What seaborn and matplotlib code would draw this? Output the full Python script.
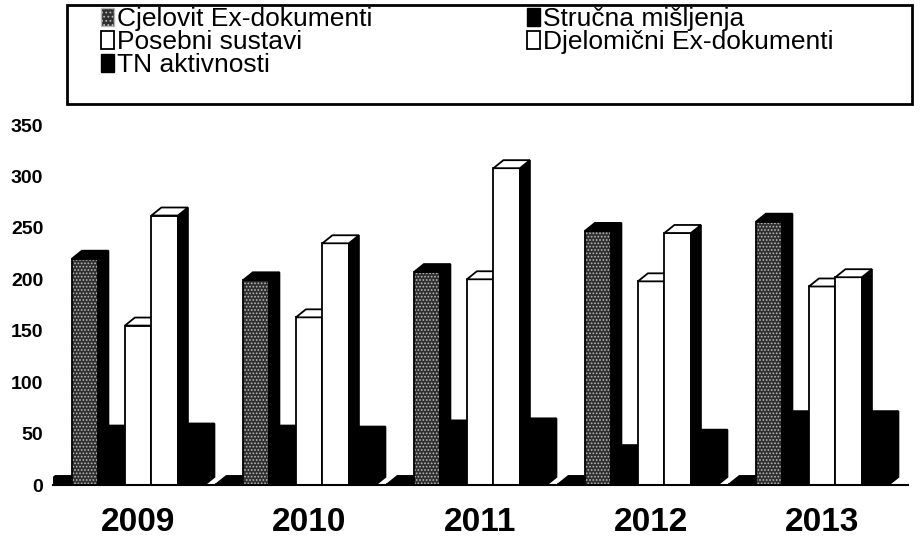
import numpy as np
import pandas as pd
import seaborn as sns
import matplotlib.pyplot as plt
from matplotlib.patches import Patch, Polygon, Rectangle

# values (front face of each 3D bar)
years = ["2009", "2010", "2011", "2012", "2013"]
series = ["", "Cjelovit Ex-dokumenti", "Stručna mišljenja", "Posebni sustavi",
          "Djelomični Ex-dokumenti", "TN aktivnosti"]
bez_naziva = [1, 1, 1, 1, 1]
cjelovit = [220, 199, 207, 247, 256]
strucna = [50, 50, 55, 31, 64]
posebni = [155, 163, 200, 198, 193]
djelomicni = [262, 235, 308, 245, 202]
tn = [52, 49, 57, 46, 64]

values = [bez_naziva, cjelovit, strucna, posebni, djelomicni, tn]
df = pd.DataFrame({
    "godina": years * len(series),
    "serija": [s for s in series for _ in years],
    "broj": [v for vals in values for v in vals],
})

GREY = "#2f2f2f"
face = {"": "black", series[1]: GREY, series[2]: "black", series[3]: "white",
        series[4]: "white", series[5]: "black"}
top_face = {"": "black", series[1]: "black", series[2]: "black", series[3]: "white",
            series[4]: "white", series[5]: "black"}

sns.set_style("white")
plt.rcParams["font.family"] = ["Liberation Sans", "DejaVu Sans"]
plt.rcParams["text.color"] = "black"
plt.rcParams["xtick.color"] = "black"
plt.rcParams["ytick.color"] = "black"
plt.rcParams["xtick.labelcolor"] = "black"
plt.rcParams["ytick.labelcolor"] = "black"
plt.rcParams["hatch.linewidth"] = 0.8

fig = plt.figure(figsize=(9.21, 5.51), dpi=100)
ax = fig.add_axes([53 / 921, 66 / 551, 855 / 921, 360 / 551])

sns.barplot(data=df, x="godina", y="broj", hue="serija", order=years,
            hue_order=series, palette=face, width=0.93, saturation=1,
            edgecolor="black", linewidth=1.3, legend=False, ax=ax)

ax.set_ylim(0, 350)
ax.set_xlim(-0.4205, 4.5795)

# fake 3D: top and side faces from each bar's own geometry
dx, dy = 0.0585, 7.8
bars = sorted(ax.patches, key=lambda p: p.get_x())
for m, p in enumerate(bars):
    name = series[m % len(series)]
    x, w, h = p.get_x(), p.get_width(), p.get_height()
    z = 2 + m * 0.01
    p.set_zorder(z)
    if name == series[1]:
        p.set_hatch(".....")
        p.set_edgecolor("#b8b8b8")
        p.set_linestyle(":")
        ax.add_patch(Rectangle((x, 0), w, h, fill=False, edgecolor="black",
                               lw=1.3, zorder=z + 0.001))
    side = Polygon([(x + w, 0), (x + w + dx, dy), (x + w + dx, h + dy), (x + w, h)],
                   closed=True, facecolor="black", edgecolor="black", lw=1.3,
                   zorder=z + 0.002)
    top = Polygon([(x, h), (x + dx, h + dy), (x + w + dx, h + dy), (x + w, h)],
                  closed=True, facecolor=top_face[name], edgecolor="black", lw=1.3,
                  zorder=z + 0.003)
    ax.add_patch(side)
    ax.add_patch(top)

# axes and ticks
ax.set_xlabel("")
ax.set_ylabel("")
ax.set_yticks(range(0, 351, 50))
ax.set_yticklabels([str(v) for v in range(0, 351, 50)], fontsize=14, fontweight="bold")
ax.tick_params(axis="y", length=0, pad=7)
bounds = [i - 0.4205 for i in range(len(years) + 1)]
centers = [i + 0.0795 for i in range(len(years))]
ax.set_xticks(bounds, labels=[""] * len(bounds))
ax.set_xticks(centers, labels=years, minor=True)
ax.tick_params(axis="x", which="major", length=6, width=1.5, direction="out", color="black")
ax.tick_params(axis="x", which="minor", length=0, pad=16, labelsize=24)
for lbl in ax.get_xticklabels(minor=True):
    lbl.set_fontweight("bold")
sns.despine(ax=ax, left=True)
ax.spines["bottom"].set_linewidth(1.5)
ax.spines["bottom"].set_color("black")

# legend in two columns inside one frame
handles = {
    series[1]: Patch(facecolor=GREY, hatch="....", edgecolor="#b8b8b8"),
    series[2]: Patch(facecolor="black", edgecolor="black"),
    series[3]: Patch(facecolor="white", edgecolor="black", lw=1.3),
    series[4]: Patch(facecolor="white", edgecolor="black", lw=1.3),
    series[5]: Patch(facecolor="black", edgecolor="black"),
}
col1 = [series[1], series[3], series[5]]
col2 = [series[2], series[4]]
leg_kw = dict(loc="upper left", frameon=False, fontsize=19, handlelength=0.5,
              handleheight=0.68, handletextpad=0.1, labelspacing=-0.03,
              borderpad=0, borderaxespad=0)
fig.legend([handles[c] for c in col1], col1, bbox_to_anchor=(101 / 921, 1 - 7 / 551), **leg_kw)
fig.legend([handles[c] for c in col2], col2, bbox_to_anchor=(527 / 921, 1 - 7 / 551), **leg_kw)
fig.add_artist(Rectangle((67 / 921, 1 - 104 / 551), 845 / 921, 99 / 551,
                         transform=fig.transFigure, fill=False, edgecolor="black", lw=2))

fig.savefig("out.png", dpi=100)
